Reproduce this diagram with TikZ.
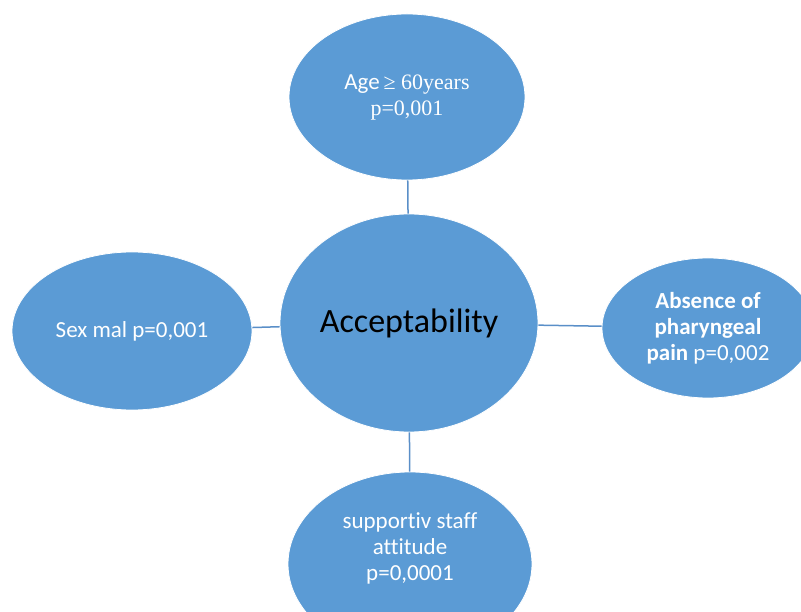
\documentclass[tikz,border=0pt]{standalone}
\usepackage{fontspec}
\setmainfont{Carlito}[Ligatures=NoCommon]
\newfontfamily\tnr{Liberation Serif}
\usetikzlibrary{shapes.geometric}
\definecolor{bubble}{HTML}{5B9BD5}
\definecolor{link}{HTML}{5A8FC8}
\tikzset{
  bub/.style={ellipse, fill=bubble, draw=white, line width=0.8pt, inner sep=0pt,
    text=white, align=center, font=\fontsize{23}{26}\selectfont},
  conn/.style={draw=link, line width=1.5pt}
}
\begin{document}
\begin{tikzpicture}[x=1pt,y=-1pt]
\useasboundingbox (0,0) rectangle (801,612);
\clip (0,0) rectangle (801,612);
\fill[white] (0,0) rectangle (801,612);
\node[bub, minimum width=236pt, minimum height=166pt] (age) at (407,97)
  {Age\,{\tnr\fontsize{22}{26}\selectfont ≥ 60years}\\{\tnr\fontsize{22}{26}\selectfont p=0,001}};
\node[bub, minimum width=258pt, minimum height=218pt, text=black,
  font=\fontsize{34}{38}\selectfont] (acc) at (409,323) {Acceptability};
\node[bub, minimum width=240pt, minimum height=158pt] (sex) at (132,331) {Sex mal p=0,001};
\node[bub, minimum width=212pt, minimum height=140pt] (pain) at (708,328)
  {\textbf{Absence of}\\\textbf{pharyngeal}\\\textbf{pain} p=0,002};
\node[bub, minimum width=244pt, minimum height=184pt] (staff) at (410,564)
  {supportiv staff\\attitude\\p=0,0001\\[8pt]};
\draw[conn] (age) -- (acc);
\draw[conn] (acc) -- (staff);
\draw[conn] (acc) -- (sex);
\draw[conn] (acc) -- (pain);
\end{tikzpicture}
\end{document}
